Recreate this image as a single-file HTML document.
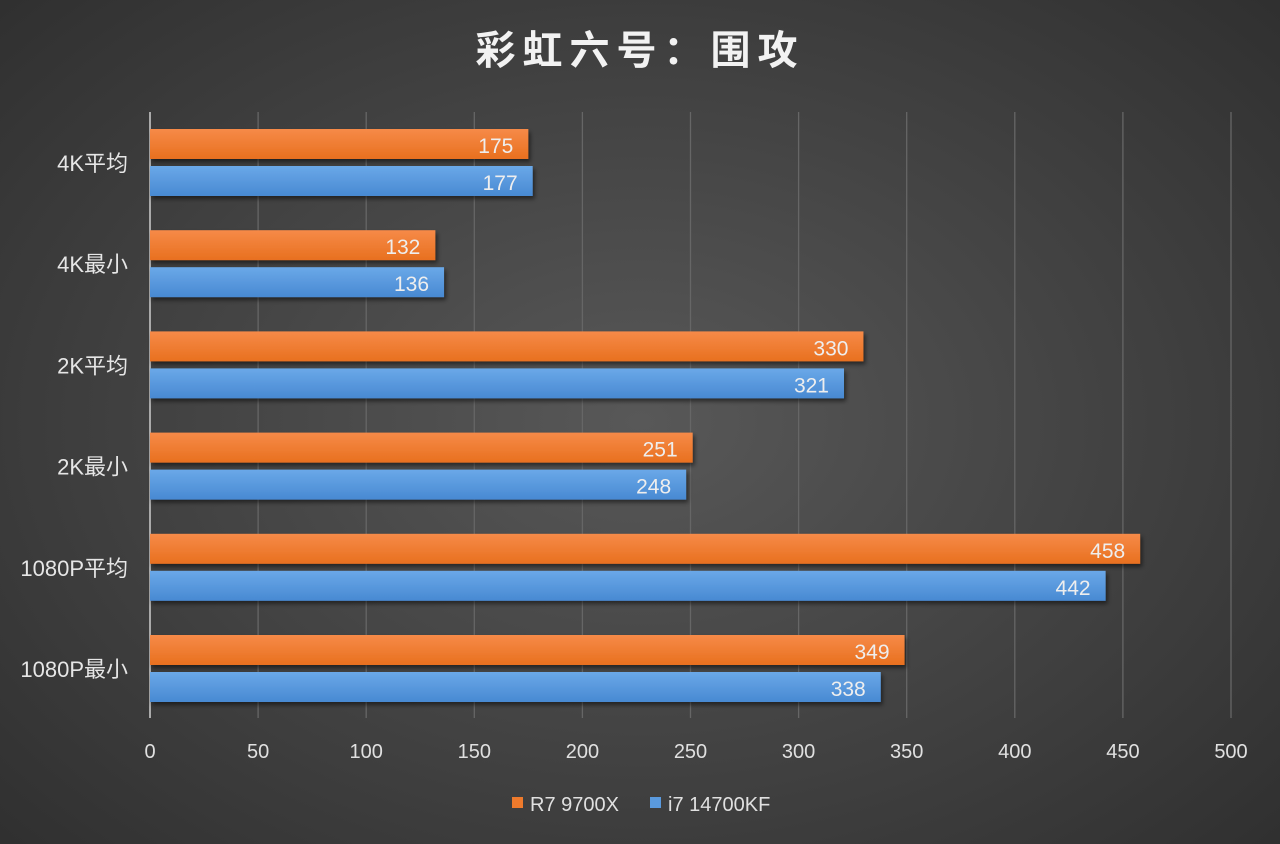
<!DOCTYPE html>
<html><head><meta charset="utf-8"><style>
html,body{margin:0;padding:0;}
body{width:1280px;height:844px;overflow:hidden;background:radial-gradient(ellipse 75% 80% at 50% 50%,#585858 0%,#444 45%,#2c2c2c 100%);font-family:"Liberation Sans","Noto Sans CJK SC",sans-serif;}
svg{position:absolute;left:0;top:0;}
</style></head><body>
<svg id="chart" width="1280" height="844">
<defs>
<linearGradient id="go" x1="0" y1="0" x2="0" y2="1"><stop offset="0" stop-color="#f68a48"/><stop offset="1" stop-color="#e8701f"/></linearGradient>
<linearGradient id="gb" x1="0" y1="0" x2="0" y2="1"><stop offset="0" stop-color="#6aa8e8"/><stop offset="1" stop-color="#4889d2"/></linearGradient>
<filter id="sh" x="-5%" y="-20%" width="110%" height="160%"><feDropShadow dx="2" dy="3" stdDeviation="2" flood-color="#000" flood-opacity="0.5"/></filter>
</defs>
<text x="640" y="64" text-anchor="middle" fill="#f2f2f2" font-size="40" font-weight="bold" letter-spacing="7">彩虹六号：围攻</text>
<g id="grid"></g><g id="bars"></g><g id="labels"></g>
<g>
<rect x="512" y="797" width="11" height="11" fill="#ee7a2c"/>
<text x="530" y="811" fill="#e0e0e0" font-size="20">R7 9700X</text>
<rect x="650" y="797" width="11" height="11" fill="#5a9ade"/>
<text x="668" y="811" fill="#e0e0e0" font-size="20">i7 14700KF</text>
</g>
</svg>
<script>
const categories=["4K平均","4K最小","2K平均","2K最小","1080P平均","1080P最小"];
const seriesR7=[175,132,330,251,458,349];
const seriesI7=[177,136,321,248,442,338];
const ticks=[0,50,100,150,200,250,300,350,400,450,500];
const NS="http://www.w3.org/2000/svg";
const x0=150,x1=1231,vmax=500;
const xs=v=>x0+(x1-x0)*v/vmax;
const rowTop=i=>129+i*101.2;
function mk(t,a,p){const e=document.createElementNS(NS,t);for(const k in a)e.setAttribute(k,a[k]);p.appendChild(e);return e;}
const grid=document.getElementById('grid'),bars=document.getElementById('bars'),labels=document.getElementById('labels');
ticks.forEach(t=>{
 if(t>0){const l=mk('line',{x1:xs(t),x2:xs(t),y1:112,y2:718,stroke:'#666','stroke-width':1.3},grid);
 
 }
 const tx=mk('text',{x:xs(t),y:758,'text-anchor':'middle',fill:'#e0e0e0','font-size':20},grid);
 tx.textContent=t;
 
 
});
const ax=mk('line',{x1:x0,x2:x0,y1:112,y2:718,stroke:'#aaa','stroke-width':2},grid);


categories.forEach((c,i)=>{
 const y=rowTop(i);
 const cl=mk('text',{x:128,y:y+42,'text-anchor':'end',fill:'#e6e6e6','font-size':22},labels);
 cl.textContent=c;
 
 
 [[seriesR7[i],'url(#go)',0,'r7'],[seriesI7[i],'url(#gb)',37,'i7']].forEach(([v,f,dy,n])=>{
  const r=mk('rect',{x:x0,y:y+dy,width:xs(v)-x0,height:30,fill:f,filter:'url(#sh)'},bars);
  
  
  const t=mk('text',{x:xs(v)-15,y:y+dy+24,'text-anchor':'end',fill:'#eeeeee','font-size':21},labels);
  t.textContent=v;
  
  
 });
});
</script>
</body></html>
